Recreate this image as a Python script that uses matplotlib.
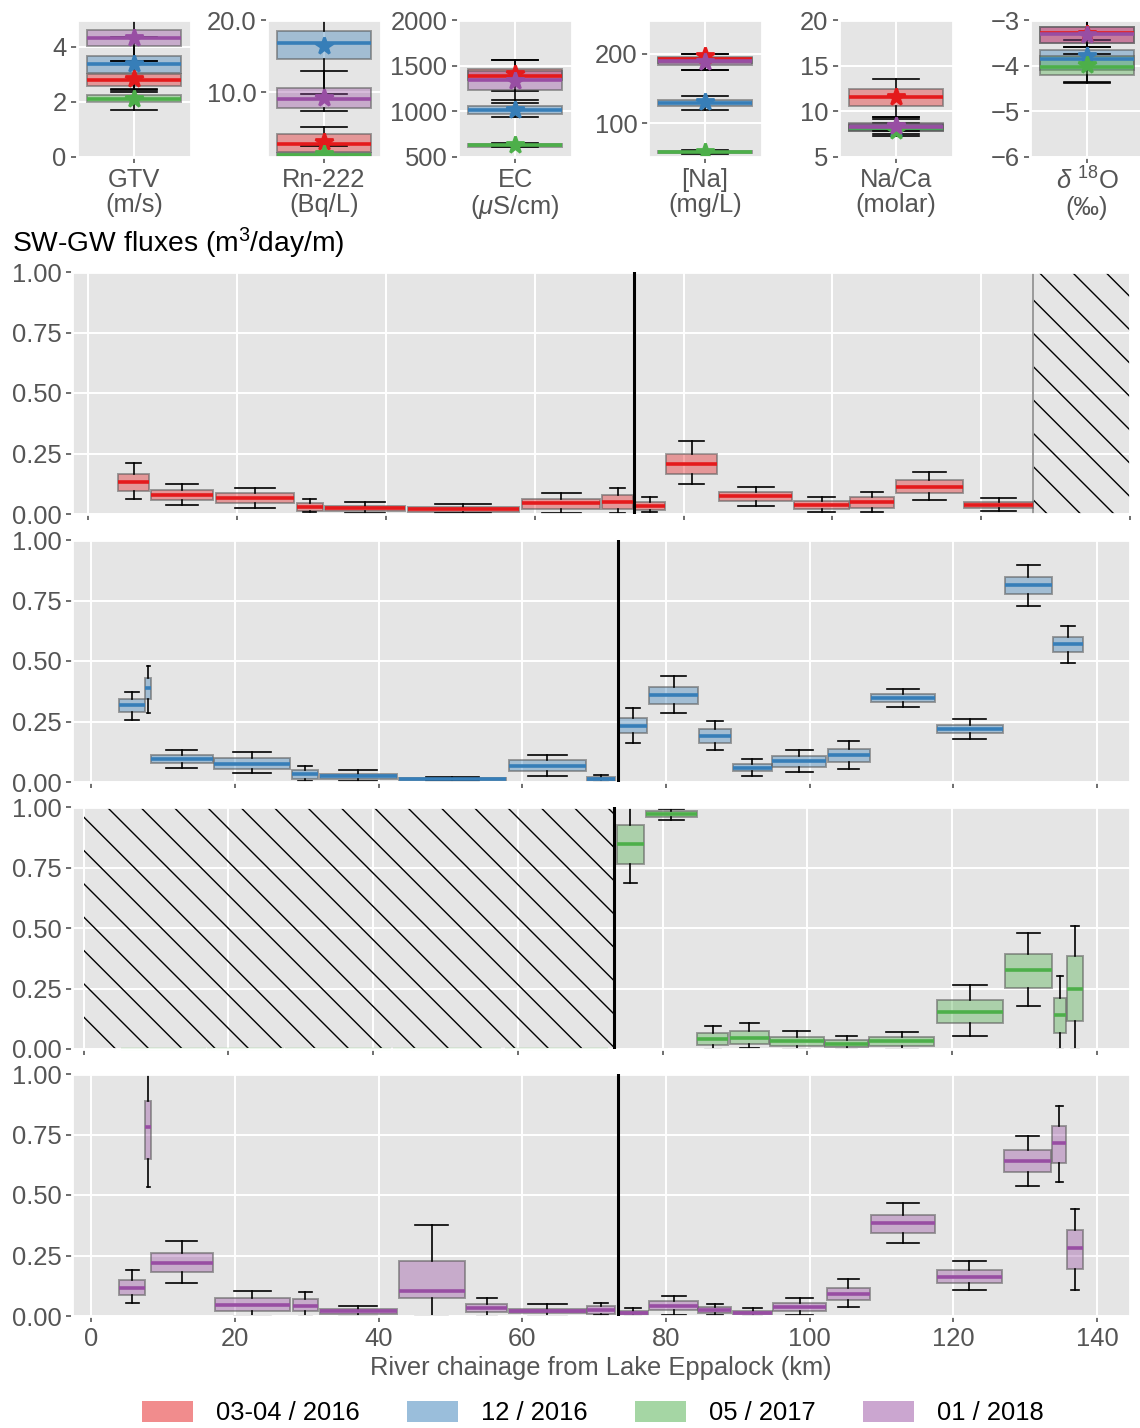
import matplotlib
matplotlib.use("Agg")
import matplotlib.pyplot as plt
from matplotlib.patches import Patch, Rectangle
from matplotlib.colors import to_rgba
from matplotlib.ticker import FormatStrFormatter

plt.style.use("ggplot")
plt.rcParams["font.family"] = ["Liberation Sans", "DejaVu Sans"]
plt.rcParams["mathtext.fontset"] = "custom"
plt.rcParams["mathtext.rm"] = "Liberation Sans"
plt.rcParams["mathtext.it"] = "Liberation Sans:italic"
plt.rcParams["hatch.linewidth"] = 0.5

FS = 9.2

# ---------------------------------------------------------------- campaigns
campaigns = ["03-04 / 2016", "12 / 2016", "05 / 2017", "01 / 2018"]
colors = ["#e41a1c", "#377eb8", "#4daf4a", "#984ea3"]

# ---------------------------------------------- tracer summaries (top row)
# each entry: (whislo, q1, median, q3, whishi, mean) per campaign
tracer_labels = ["GTV\n(m/s)", "Rn-222\n(Bq/L)", "EC\n($\\mu$S/cm)",
                 "[Na]\n(mg/L)", "Na/Ca\n(molar)", "$\\delta$ $^{18}$O\n(‰)"]

gtv = [(2.42, 2.59, 2.81, 3.00, 3.49, 2.84),
       (2.48, 3.05, 3.38, 3.67, 4.36, 3.39),
       (1.72, 2.00, 2.12, 2.25, 2.36, 2.12),
       (3.50, 4.03, 4.30, 4.61, 4.97, 4.30)]
rn222 = [(1.10, 1.80, 2.86, 4.24, 5.30, 3.18),
         (9.77, 14.56, 16.77, 18.50, 20.00, 16.40),
         (1.10, 1.15, 1.40, 1.60, 2.67, 1.50),
         (7.47, 7.88, 9.12, 10.65, 13.00, 9.26)]
ec = [(1227, 1342, 1388, 1460, 1558, 1414),
      (939, 975, 1014, 1054, 1090, 1018),
      (608, 612, 630, 644, 651, 633),
      (1119, 1237, 1345, 1442, 1558, 1335)]
na = [(177.4, 187.5, 192.3, 196.0, 200.0, 197.6),
      (119.2, 124.0, 128.8, 133.7, 138.5, 130.0),
      (56.0, 56.7, 58.0, 60.0, 61.5, 58.0),
      (177.4, 184.6, 189.4, 194.0, 200.0, 188.0)]
na_ca = [(9.42, 10.58, 11.52, 12.43, 13.50, 11.52),
         (7.32, 7.90, 8.20, 8.60, 9.17, 8.10),
         (7.54, 7.85, 8.15, 8.55, 8.77, 7.80),
         (7.80, 7.95, 8.30, 8.70, 9.42, 8.40)]
d18o = [(-3.59, -3.507, -3.29, -3.145, -3.00, -3.30),
        (-4.36, -4.10, -3.85, -3.65, -3.43, -3.78),
        (-4.39, -4.21, -4.03, -3.78, -3.59, -3.98),
        (-3.74, -3.50, -3.30, -3.15, -3.00, -3.32)]
tracers = [gtv, rn222, ec, na, na_ca, d18o]

tracer_ylims = [(0, 4.97), (1.1, 20.0), (500, 2000), (51, 249), (5, 20), (-6, -3)]
tracer_yticks = [[0, 2, 4], [10, 20], [500, 1000, 1500, 2000], [100, 200],
                 [5, 10, 15, 20], [-6, -5, -4, -3]]
tracer_yticklabels = [None, ["10.0", "20.0"], None, None, None, None]

# ------------------------------------------- SW-GW fluxes along the river
# reach start / end chainage (km) and box statistics (m3/day/m)
f1_start = [3.95, 8.4, 17.1, 28.0, 31.8, 42.9, 58.3, 69.1, 73.45, 77.7, 84.8, 94.9, 102.4, 108.6, 117.7]
f1_end = [8.2, 16.8, 27.7, 31.5, 42.5, 57.9, 68.8, 73.2, 77.5, 84.5, 94.6, 102.2, 108.3, 117.5, 127.0]
f1_lo = [0.062, 0.037, 0.023, 0.007, 0.004, 0.003, 0.004, 0.004, 0.007, 0.124, 0.034, 0.007, 0.007, 0.058, 0.014]
f1_q1 = [0.096, 0.058, 0.044, 0.014, 0.011, 0.010, 0.021, 0.021, 0.018, 0.165, 0.055, 0.021, 0.025, 0.085, 0.026]
f1_med = [0.131, 0.078, 0.065, 0.030, 0.025, 0.021, 0.044, 0.048, 0.034, 0.206, 0.073, 0.037, 0.048, 0.113, 0.039]
f1_q3 = [0.165, 0.099, 0.085, 0.044, 0.034, 0.029, 0.062, 0.078, 0.051, 0.248, 0.092, 0.052, 0.069, 0.140, 0.051]
f1_hi = [0.210, 0.122, 0.107, 0.062, 0.051, 0.040, 0.087, 0.109, 0.070, 0.300, 0.111, 0.070, 0.091, 0.175, 0.065]

f2_start = [3.8, 7.5, 8.3, 17.1, 27.9, 31.8, 42.8, 58.2, 69.0, 73.4, 77.6, 84.6, 89.3, 94.8, 102.5, 108.6, 117.7, 127.2, 133.9]
f2_end = [7.5, 8.3, 16.9, 27.7, 31.6, 42.5, 57.7, 68.8, 72.9, 77.4, 84.5, 89.1, 94.7, 102.3, 108.4, 117.5, 126.9, 133.7, 138.0]
f2_lo = [0.255, 0.287, 0.058, 0.036, 0.004, 0.003, 0.004, 0.023, 0.001, 0.161, 0.284, 0.131, 0.026, 0.041, 0.052, 0.309, 0.179, 0.727, 0.491]
f2_q1 = [0.290, 0.345, 0.079, 0.055, 0.014, 0.011, 0.007, 0.046, 0.004, 0.204, 0.321, 0.163, 0.044, 0.061, 0.081, 0.330, 0.203, 0.777, 0.537]
f2_med = [0.317, 0.390, 0.097, 0.076, 0.034, 0.023, 0.012, 0.068, 0.014, 0.232, 0.359, 0.189, 0.059, 0.086, 0.110, 0.348, 0.221, 0.814, 0.570]
f2_q3 = [0.345, 0.428, 0.113, 0.099, 0.048, 0.034, 0.018, 0.090, 0.021, 0.266, 0.394, 0.217, 0.076, 0.108, 0.138, 0.364, 0.237, 0.848, 0.600]
f2_hi = [0.371, 0.479, 0.134, 0.126, 0.066, 0.048, 0.021, 0.110, 0.028, 0.305, 0.440, 0.251, 0.094, 0.134, 0.168, 0.383, 0.262, 0.897, 0.644]

f3_start = [5.2, 8.3, 17.1, 27.9, 31.8, 42.8, 58.2, 69.0, 73.7, 77.7, 84.8, 89.3, 94.8, 102.5, 108.6, 117.9, 127.3, 134.1, 135.9]
f3_end = [8.3, 16.9, 27.7, 31.6, 42.5, 57.7, 68.8, 72.4, 77.4, 84.7, 89.1, 94.7, 102.3, 108.4, 117.5, 127.1, 133.8, 135.8, 138.1]
f3_lo = [0, 0, 0, 0, 0, 0, 0, 0, 0.686, 0.945, 0.000, 0.003, 0.000, 0.000, 0.000, 0.055, 0.179, 0.000, 0.000]
f3_q1 = [0, 0, 0, 0, 0, 0, 0, 0, 0.766, 0.959, 0.018, 0.021, 0.014, 0.007, 0.011, 0.106, 0.251, 0.065, 0.117]
f3_med = [0, 0, 0, 0, 0, 0, 0, 0, 0.848, 0.972, 0.041, 0.046, 0.032, 0.021, 0.032, 0.154, 0.327, 0.141, 0.248]
f3_q3 = [0, 0, 0, 0, 0, 0, 0, 0, 0.924, 0.983, 0.065, 0.073, 0.051, 0.037, 0.048, 0.203, 0.393, 0.211, 0.386]
f3_hi = [0, 0, 0, 0, 0, 0, 0, 0, 1.050, 0.992, 0.097, 0.109, 0.076, 0.052, 0.069, 0.265, 0.480, 0.303, 0.508]

f4_start = [3.9, 7.5, 8.3, 17.2, 28.0, 31.8, 42.8, 52.2, 58.2, 69.0, 73.3, 77.7, 84.5, 89.3, 94.9, 102.4, 108.6, 117.7, 127.1, 133.8, 135.8]
f4_end = [7.5, 8.3, 16.9, 27.6, 31.6, 42.5, 52.0, 57.9, 68.8, 72.9, 77.5, 84.4, 89.1, 94.8, 102.3, 108.4, 117.4, 126.8, 133.6, 135.7, 138.0]
f4_lo = [0.054, 0.535, 0.135, 0.0, 0.0, 0.0, 0.0, 0.0, 0.0, 0.003, 0.0, 0.006, 0.003, 0.001, 0.003, 0.037, 0.302, 0.106, 0.538, 0.552, 0.108]
f4_q1 = [0.088, 0.648, 0.181, 0.022, 0.021, 0.010, 0.073, 0.017, 0.012, 0.010, 0.006, 0.023, 0.011, 0.007, 0.019, 0.068, 0.345, 0.138, 0.593, 0.634, 0.196]
f4_med = [0.116, 0.779, 0.217, 0.047, 0.043, 0.019, 0.103, 0.034, 0.021, 0.023, 0.014, 0.041, 0.023, 0.014, 0.037, 0.092, 0.383, 0.163, 0.639, 0.716, 0.279]
f4_q3 = [0.148, 0.890, 0.262, 0.074, 0.069, 0.029, 0.226, 0.051, 0.030, 0.040, 0.021, 0.062, 0.037, 0.021, 0.055, 0.117, 0.419, 0.190, 0.684, 0.786, 0.356]
f4_hi = [0.189, 1.050, 0.309, 0.102, 0.099, 0.043, 0.374, 0.074, 0.048, 0.055, 0.033, 0.083, 0.050, 0.033, 0.074, 0.152, 0.465, 0.226, 0.745, 0.866, 0.444]

flux_panels = [
    (f1_start, f1_end, f1_lo, f1_q1, f1_med, f1_q3, f1_hi),
    (f2_start, f2_end, f2_lo, f2_q1, f2_med, f2_q3, f2_hi),
    (f3_start, f3_end, f3_lo, f3_q1, f3_med, f3_q3, f3_hi),
    (f4_start, f4_end, f4_lo, f4_q1, f4_med, f4_q3, f4_hi),
]

weir_km = [73.35, 73.3, 73.3, 73.3]          # vertical marker on each panel
no_data_reach = [(127.0, 140.0), None, (0.0, 73.3), None]
flux_xlims = [(-2.2, 140.0), (-2.7, 144.6), (-1.6, 144.6), (-2.7, 144.6)]
chainage_ticks = [0, 20, 40, 60, 80, 100, 120, 140]
flux_yticks = [0.0, 0.25, 0.5, 0.75, 1.0]

# ------------------------------------------------------------- figure
W, H = 1140, 1428
DPI = 200
fig = plt.figure(figsize=(W / DPI, H / DPI), dpi=DPI)


def px_axes(left, top, width, height):
    return fig.add_axes([left / W, 1 - (top + height) / H, width / W, height / H])


def style_ticks(ax):
    ax.tick_params(axis="both", labelsize=FS, length=2.0, width=0.6, pad=1.8,
                   colors="#555555")
    ax.grid(True, color="white", linewidth=0.7)


box_edge = (0.35, 0.35, 0.35, 0.55)
MED_LW = 1.3

# top row of tracer box plots
top_lefts = [77, 267, 458, 648, 839, 1030]
for k, (data, lab) in enumerate(zip(tracers, tracer_labels)):
    ax = px_axes(top_lefts[k], 20, 114, 137)
    for (lo, q1, med, q3, hi, mean), c in zip(data, colors):
        st = [dict(whislo=lo, q1=q1, med=med, q3=q3, whishi=hi, mean=mean, fliers=[])]
        ax.bxp(st, positions=[1], widths=[0.82], patch_artist=True, showfliers=False,
               showmeans=True, manage_ticks=False,
               boxprops=dict(facecolor=to_rgba(c, 0.38), edgecolor=box_edge, linewidth=0.7),
               medianprops=dict(color=c, linewidth=MED_LW),
               whiskerprops=dict(color="k", linewidth=0.6),
               capprops=dict(color="k", linewidth=0.6),
               meanprops=dict(marker="*", markerfacecolor=c, markeredgecolor=c,
                              markersize=6.5))
    ax.set_xlim(0.5, 1.5)
    ax.set_ylim(*tracer_ylims[k])
    ax.set_yticks(tracer_yticks[k])
    if tracer_yticklabels[k] is not None:
        ax.set_yticklabels(tracer_yticklabels[k])
    ax.set_xticks([1])
    ax.set_xticklabels([lab], linespacing=1.05)
    style_ticks(ax)

fig.text(12 / W, 1 - 243 / H, "SW-GW fluxes (m$^3$/day/m)", fontsize=10.2,
         color="black", ha="left", va="center")

# four flux panels, one per campaign
panel_tops = [272, 540, 807, 1074]
for k, (start, end, lo, q1, med, q3, hi) in enumerate(flux_panels):
    ax = px_axes(72, panel_tops[k], 1058, 242)
    c = colors[k]
    centers = [(a + b) / 2 for a, b in zip(start, end)]
    widths = [b - a for a, b in zip(start, end)]
    stats = [dict(whislo=l, q1=a, med=m, q3=b, whishi=h, fliers=[])
             for l, a, m, b, h in zip(lo, q1, med, q3, hi)]
    arts = ax.bxp(stats, positions=centers, widths=widths, patch_artist=True,
                  showfliers=False, manage_ticks=False,
                  boxprops=dict(facecolor=to_rgba(c, 0.38), edgecolor=box_edge, linewidth=0.7),
                  medianprops=dict(color=c, linewidth=MED_LW),
                  whiskerprops=dict(color="k", linewidth=0.6),
                  capprops=dict(color="k", linewidth=0.6))
    # reaches with zero flux keep their median visible on the axis
    for line, m in zip(arts["medians"], med):
        if m == 0:
            line.set_clip_on(False)
            line.set_linewidth(0.8)
    if no_data_reach[k] is not None:
        x0, x1 = no_data_reach[k]
        ax.add_patch(Rectangle((x0, 0), x1 - x0, 1.0, facecolor="none",
                               edgecolor="k", linewidth=0, hatch="\\\\", zorder=1.5))
        if k == 0:
            ax.axvline(x0, color="#999999", linewidth=0.7, zorder=1.6)
    ax.axvline(weir_km[k], color="k", linewidth=1.1, zorder=3)
    ax.set_xlim(*flux_xlims[k])
    ax.set_ylim(0, 1.0)
    ax.set_yticks(flux_yticks)
    ax.yaxis.set_major_formatter(FormatStrFormatter("%.2f"))
    ax.set_xticks(chainage_ticks)
    style_ticks(ax)
    if k < 3:
        ax.set_xticklabels([])
    else:
        ax.set_xlabel("River chainage from Lake Eppalock (km)", fontsize=FS,
                      color="#555555", labelpad=2)

handles = [Patch(facecolor=to_rgba(c, 0.5), edgecolor="none") for c in colors]
fig.legend(handles, campaigns, loc="center", bbox_to_anchor=(0.52, 1 - 1413 / H),
           ncol=4, frameon=False, fontsize=FS, handlelength=2.0, handleheight=0.9,
           columnspacing=1.85, handletextpad=0.9)

fig.savefig("out.png", dpi=DPI)
